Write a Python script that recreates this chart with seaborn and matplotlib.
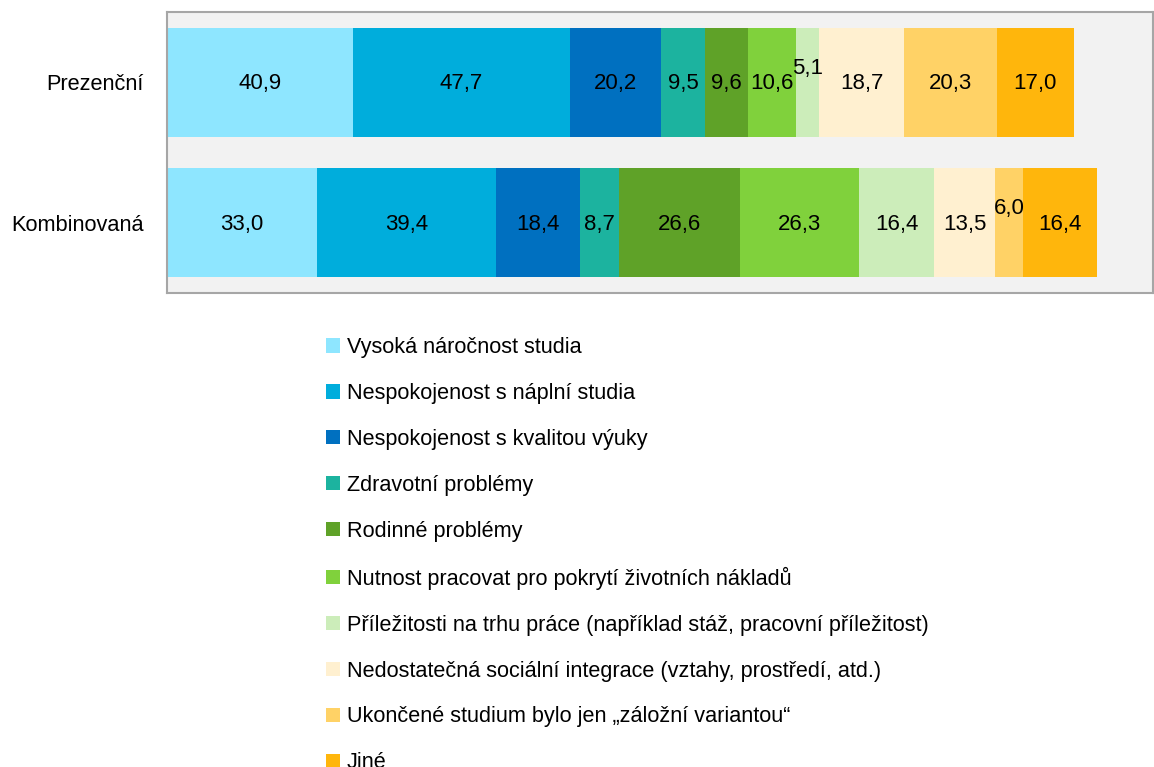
import matplotlib
matplotlib.use("Agg")
from matplotlib import pyplot as plt
from matplotlib import font_manager
from matplotlib.patches import Patch
import seaborn as sns
import pandas as pd
import numpy as np

# data
forms = ['Prezenční', 'Kombinovaná']
reasons = ['Vysoká náročnost studia',
           'Nespokojenost s náplní studia',
           'Nespokojenost s kvalitou výuky',
           'Zdravotní problémy',
           'Rodinné problémy',
           'Nutnost pracovat pro pokrytí životních nákladů',
           'Příležitosti na trhu práce (například stáž, pracovní příležitost)',
           'Nedostatečná sociální integrace (vztahy, prostředí, atd.)',
           'Ukončené studium bylo jen „záložní variantou“',
           'Jiné']
prezencni = [40.9, 47.7, 20.2, 9.5, 9.6, 10.6, 5.1, 18.7, 20.3, 17.0]
kombinovana = [33.0, 39.4, 18.4, 8.7, 26.6, 26.3, 16.4, 13.5, 6.0, 16.4]
colors = ['#8EE6FF', '#00ADDC', '#0070C0', '#1CB39F', '#5FA228',
          '#80D13C', '#CCEDBA', '#FFF0D0', '#FFD266', '#FFB60C']

# font sizes (narrow font if we have it, otherwise regular scaled down)
installed = {f.name for f in font_manager.fontManager.ttflist}
if 'Liberation Sans Narrow' in installed:
    font = 'Liberation Sans Narrow'
    val_fs, tick_fs, leg_fs = 18.7, 18.7, 16.8
else:
    font = 'Liberation Sans'
    val_fs, tick_fs, leg_fs = 16.0, 15.7, 15.6

sns.set_style("white")
plt.rcParams['font.family'] = [font, 'DejaVu Sans']

df = pd.DataFrame({'forma': np.repeat(forms, len(reasons)),
                   'duvod': reasons * len(forms),
                   'podil': prezencni + kombinovana})
df['konec'] = df.groupby('forma', sort=False)['podil'].cumsum()
df['stred'] = df['konec'] - df['podil'] / 2

fig = plt.figure(figsize=(11.54, 7.67), dpi=100)
ax = fig.add_axes([167 / 1154, 1 - 293 / 767, 986 / 1154, 281 / 767])
ax.set_facecolor('#F2F2F2')

# stacked bars: draw cumulative ends from the last segment backwards
for i in range(len(reasons) - 1, -1, -1):
    sub = df[df['duvod'] == reasons[i]]
    sns.barplot(data=sub, x='konec', y='forma', order=forms, orient='h',
                color=colors[i], saturation=1, width=0.775, ax=ax,
                linewidth=0)

for _, r in df.iterrows():
    yi = forms.index(r['forma'])
    lift = -0.11 if r['podil'] < 7 else 0
    ax.text(r['stred'], yi + lift + 0.01, f"{r['podil']:.1f}".replace('.', ','),
            ha='center', va='center', fontsize=val_fs, color='black')

ax.set_xlim(0, 217)
ax.set_ylim(1.5, -0.5)
ax.set_xlabel('')
ax.set_ylabel('')
ax.set_xticks([])
ax.tick_params(axis='y', length=0, pad=17, labelsize=tick_fs, labelcolor='black')
for s in ax.spines.values():
    s.set_visible(True)
    s.set_color('#A6A6A6')
    s.set_linewidth(1.5)

handles = [Patch(facecolor=c, edgecolor='none') for c in colors]
fig.legend(handles, reasons, loc='upper left',
           bbox_to_anchor=(326 / 1154, 1 - 337 / 767),
           frameon=False, fontsize=leg_fs, borderpad=0, borderaxespad=0,
           handlelength=0.65, handleheight=0.65, handletextpad=0.3,
           labelspacing=1.15, labelcolor='black')

plt.savefig('out.png', dpi=100)
